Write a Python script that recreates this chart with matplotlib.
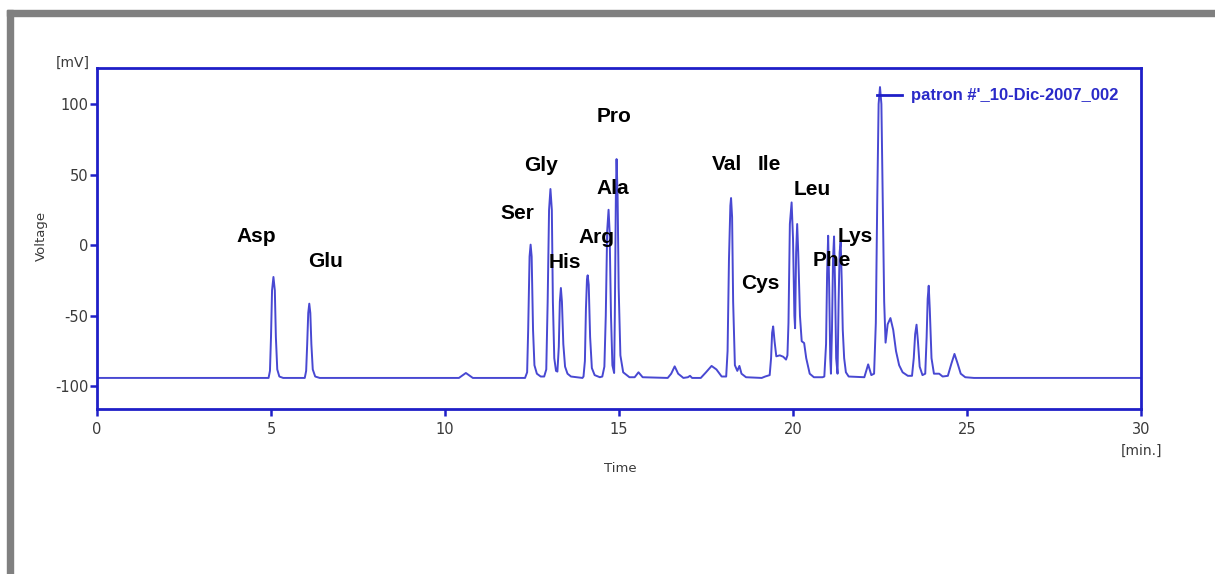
import matplotlib.pyplot as plt
from matplotlib.patches import Rectangle

plt.rcParams['axes.unicode_minus'] = False

# trace (time in min, signal in mV)
trace_t = [0.0, 4.9,
           4.93, 4.97, 5.00, 5.03, 5.07, 5.11, 5.14, 5.18, 5.24, 5.35,
           5.97, 6.01, 6.04, 6.07, 6.10, 6.13, 6.16, 6.20, 6.27, 6.40,
           10.4, 10.6, 10.8,
           12.3, 12.36, 12.39, 12.43, 12.46, 12.49, 12.53, 12.57, 12.64, 12.75,
           12.85, 12.91, 12.95, 12.99, 13.03, 13.07, 13.10, 13.14, 13.19,
           13.23, 13.27, 13.30, 13.33, 13.36, 13.40, 13.45, 13.52, 13.62, 13.95,
           13.98, 14.02, 14.05, 14.08, 14.10, 14.13, 14.17, 14.22, 14.30, 14.45,
           14.52, 14.58, 14.62, 14.66, 14.70, 14.73, 14.77, 14.81,
           14.86, 14.88, 14.91, 14.93, 14.96, 14.99, 15.04, 15.12, 15.30,
           15.45, 15.56, 15.68,
           16.40, 16.50, 16.60, 16.70, 16.85,
           16.98, 17.04, 17.10,
           17.35, 17.50, 17.66, 17.80, 17.95, 18.08,
           18.12, 18.16, 18.20, 18.22, 18.25, 18.28, 18.33, 18.40,
           18.46, 18.52, 18.65,
           19.10, 19.20,
           19.33, 19.37, 19.40, 19.43, 19.47, 19.52, 19.62, 19.72, 19.80, 19.84,
           19.87, 19.91, 19.96, 20.00, 20.04, 20.06, 20.09, 20.12, 20.15,
           20.20, 20.25, 20.32, 20.38, 20.48, 20.60,
           20.85, 20.90, 20.95, 20.98, 21.01, 21.04, 21.07, 21.09,
           21.12, 21.15, 21.18, 21.21, 21.24, 21.28,
           21.31, 21.34, 21.37, 21.40, 21.43, 21.47, 21.52, 21.60,
           22.05, 22.16, 22.25,
           22.33, 22.38, 22.42, 22.46, 22.50, 22.54, 22.58, 22.62, 22.66,
           22.72, 22.80, 22.88, 22.96, 23.05, 23.15, 23.30, 23.42,
           23.47, 23.51, 23.55, 23.59, 23.64, 23.72,
           23.80, 23.84, 23.87, 23.90, 23.93, 23.98, 24.05, 24.20, 24.30,
           24.45, 24.55, 24.64, 24.72, 24.82, 24.95, 25.20, 30.0]
trace_mv = [-94, -94,
            -94, -89, -65, -32, -22.5, -32, -65, -88, -93, -94,
            -94, -89, -70, -48, -41.4, -48, -70, -88, -93, -94,
            -94, -90.5, -94,
            -94, -90, -60, -8, 0.4, -8, -60, -85, -91, -93,
            -93, -88, -40, 25, 39.8, 25, -40, -80, -89,
            -89.5, -72, -40, -30.3, -40, -70, -86, -91, -93, -94,
            -93, -82, -45, -24, -21.3, -28, -65, -87, -92, -93.5,
            -93, -86, -50, 10, 25.1, 10, -50, -85,
            -90.5, -50, 35, 61, 35, -30, -78, -90, -93.5,
            -93.5, -90, -93.5,
            -94, -91, -85.8, -91, -94,
            -93.5, -92.5, -94,
            -94, -90, -85.5, -88, -93, -93,
            -75, -10, 28, 33.4, 20, -40, -85, -89,
            -85.5, -91, -93.5,
            -94, -93,
            -92, -80, -62, -57.5, -68, -78.7, -78, -79, -81, -78,
            -55, 15, 30.3, 5, -50, -58.8, -5, 15, -5,
            -50, -68, -69.3, -80, -91, -93.5,
            -93.5, -93, -70, -20, 6.7, -30, -80, -91,
            -60, -10, 6.2, -30, -80, -91,
            -40, -5, 2.7, -25, -60, -80, -90, -93,
            -93.5, -84.4, -92,
            -91, -55, 30, 100, 112, 100, 30, -40, -69,
            -56, -51.6, -60, -75, -85, -90, -92.5, -92.5,
            -80, -63, -56.3, -68, -86, -92,
            -91, -65, -38, -28.7, -45, -80, -91, -91, -93,
            -92.5, -84, -77, -83, -91, -93.5, -94, -94]

# amino acid labels and where they sit (time, mV)
peak_names = ['Asp', 'Glu', 'Ser', 'Gly', 'His', 'Arg', 'Ala', 'Pro',
              'Val', 'Ile', 'Cys', 'Leu', 'Phe', 'Lys']
label_t = [4.57, 6.57, 12.07, 12.77, 13.44, 14.34, 14.81, 14.86,
           18.09, 19.33, 19.05, 20.56, 21.12, 21.78]
label_mv = [6, -11.5, 22.8, 56.3, -12.2, 5.8, 40.5, 90.8,
            57, 57, -27.3, 39.3, -10.8, 6.2]

x_ticks = [0, 5, 10, 15, 20, 25, 30]
y_ticks = [-100, -50, 0, 50, 100]

frame_col = '#1f1fc8'
trace_col = '#4848d2'
W, H = 1215, 574

fig = plt.figure(figsize=(W / 100, H / 100), dpi=100)
fig.patch.set_facecolor('white')

# grey frame on top and left of the picture
fig.patches.append(Rectangle((7 / W, 1 - 16 / H), 1 - 7 / W, 6 / H,
                             transform=fig.transFigure, color='#808080'))
fig.patches.append(Rectangle((7 / W, 0), 6 / W, 1 - 10 / H,
                             transform=fig.transFigure, color='#808080'))

ax = fig.add_axes([97 / W, 1 - 409 / H, (1141 - 97) / W, (409 - 68) / H])
ax.plot(trace_t, trace_mv, color=trace_col, lw=1.4,
        label="patron #'_10-Dic-2007_002")

for name, t, v in zip(peak_names, label_t, label_mv):
    ax.text(t, v, name, ha='center', va='center', fontsize=15,
            fontweight='bold', family='Liberation Sans', color='black')

ax.set_xlim(0, 30)
ax.set_ylim(-116, 125.5)
ax.set_xticks(x_ticks)
ax.set_yticks(y_ticks)
for s in ax.spines.values():
    s.set_color(frame_col)
    s.set_linewidth(2)
ax.tick_params(colors=frame_col, width=1.8, length=5, labelcolor='#3a3a3a',
               labelsize=10.5)
ax.tick_params(axis='y', pad=1)
ax.tick_params(axis='x', pad=4)

fig.text(90 / W, 1 - 63 / H, '[mV]', ha='right', va='center', fontsize=10,
         color='#3a3a3a')
fig.text(1141 / W, 1 - 451 / H, '[min.]', ha='center', va='center',
         fontsize=10, color='#3a3a3a')
fig.text(41 / W, 1 - 236 / H, 'Voltage', rotation=90, ha='center',
         va='center', fontsize=9.5, color='#3a3a3a')
fig.text(620 / W, 1 - 468 / H, 'Time', ha='center', va='center',
         fontsize=9.5, color='#3a3a3a')

leg = ax.legend(loc='upper right', bbox_to_anchor=(0.978, 0.940),
                frameon=False, borderpad=0, borderaxespad=0,
                handlelength=1.5, handletextpad=0.5,
                prop={'family': 'Liberation Sans', 'weight': 'bold',
                      'size': 12})
for txt in leg.get_texts():
    txt.set_color('#2a2ac8')
for ln in leg.get_lines():
    ln.set_color(frame_col)
    ln.set_linewidth(2)

fig.savefig('out.png', dpi=100)
